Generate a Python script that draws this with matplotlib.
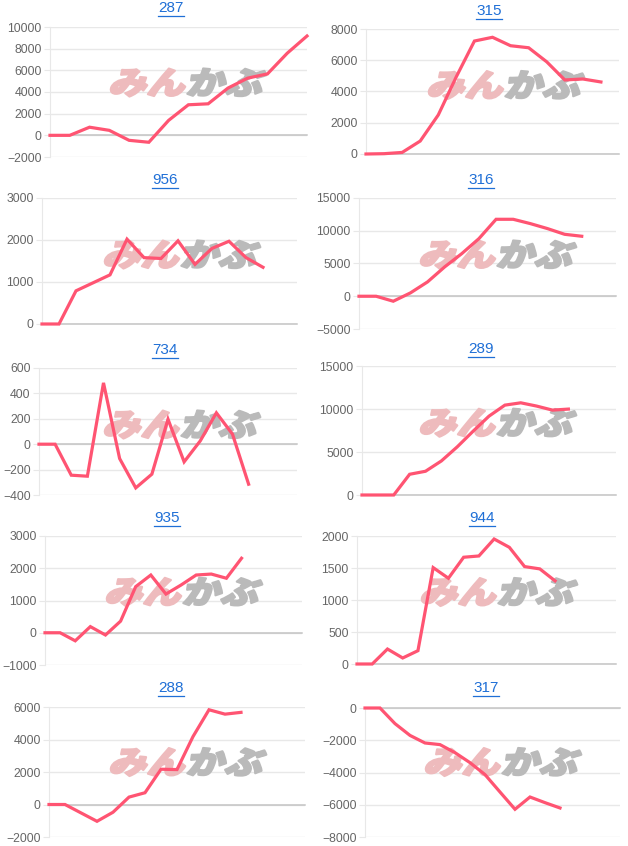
"""Small-multiples of cumulative profit lines with watermark."""

import matplotlib
matplotlib.use('Agg')
import matplotlib.pyplot as plt
import numpy as np
from matplotlib.textpath import TextPath
from matplotlib.font_manager import FontProperties
from matplotlib.patches import PathPatch
from matplotlib.transforms import Affine2D, IdentityTransform
from matplotlib.lines import Line2D

plt.rcParams['font.family'] = ['Liberation Sans', 'DejaVu Sans']

W, H = 628, 846

# panel titles (row-major: left, right)
titles = ['287', '315', '956', '316', '734', '289', '935', '944', '288', '317']

# series values per panel
vals_287 = [0, 0, 750, 460, -460, -640, 1380, 2820, 2910, 4360, 5280, 5670, 7580, 9170]
vals_315 = [0, 20, 100, 830, 2500, 4950, 7230, 7470, 6930, 6800, 5900, 4740, 4800, 4610]
vals_956 = [0, 0, 790, 980, 1170, 2020, 1580, 1560, 1980, 1420, 1800, 1970, 1580, 1350]
vals_316 = [0, 0, -760, 510, 2190, 4480, 6510, 8800, 11750, 11750, 11090, 10330, 9460, 9160]
vals_734 = [0, 0, -244, -252, 483, -113, -344, -236, 197, -139, 26, 247, 79, -315]
vals_289 = [0, 0, 0, 2410, 2760, 3960, 5600, 7420, 9170, 10450, 10720, 10340, 9870, 9990]
vals_935 = [0, 0, -250, 190, -70, 360, 1430, 1790, 1200, 1480, 1790, 1820, 1690, 2310]
vals_944 = [0, 0, 234, 94, 208, 1506, 1340, 1668, 1688, 1953, 1823, 1522, 1486, 1299]
vals_288 = [0, 0, -517, -1034, -476, 455, 724, 2170, 2150, 4180, 5830, 5560, 5670]
vals_317 = [0, 0, -970, -1700, -2170, -2270, -2770, -3390, -4130, -5210, -6280, -5520, -5870, -6200]
series = [vals_287, vals_315, vals_956, vals_316, vals_734,
          vals_289, vals_935, vals_944, vals_288, vals_317]

# number of category slots on each x axis
n_slots = [14, 15, 16, 16, 17, 17, 18, 18, 17, 18]

# y axis (min, max, step)
y_axes = [(-2000, 10000, 2000), (0, 8000, 2000), (0, 3000, 1000), (-5000, 15000, 5000),
          (-400, 600, 200), (0, 15000, 5000), (-1000, 3000, 1000), (0, 2000, 500),
          (-2000, 6000, 2000), (-8000, 0, 2000)]

# plot area in pixels: left, top, right, bottom
boxes = [(50, 27, 307, 157), (366, 29, 619, 154),
         (42, 198, 297, 324), (359, 198, 616, 329),
         (39, 368, 297, 495), (362, 366, 616, 495),
         (45, 536, 302, 665), (357, 536, 616, 664),
         (49, 707, 305, 837), (365, 708, 620, 837)]

# title centres in pixels
title_pos = [(171, 8.5), (489, 11), (165, 180.5), (481, 180.5), (165, 350.5),
             (481, 348.7), (167, 517.8), (482, 518), (171, 688), (486, 688)]

LINE = '#ff5472'
GRID = '#e8e8e8'
ZERO = '#c4c4c4'
LINK = '#1f6fd6'

fig = plt.figure(figsize=(W / 100, H / 100), dpi=100)
fig.patch.set_facecolor('white')

fp_logo = FontProperties(family='Noto Sans CJK JP', weight='heavy')


def add_logo(ax, cx, cy):
    p1 = TextPath((0, 0), 'みん', size=40, prop=fp_logo)
    p2 = TextPath((0, 0), 'かぶ', size=40, prop=fp_logo)
    e1 = p1.get_extents()
    e2 = p2.get_extents()
    gap = 4
    total_w = e1.width + gap + e2.width
    h = max(e1.y1, e2.y1) - min(e1.y0, e2.y0)
    sx = 152 / total_w
    sy = 28 / h
    y0 = min(e1.y0, e2.y0)
    base = Affine2D().translate(-e1.x0, -y0).scale(sx, sy)
    skew = Affine2D().skew_deg(14, 0)
    disp_x = cx - 156 / 2
    disp_y = H - cy - 14
    t1 = base + skew + Affine2D().translate(disp_x, disp_y)
    t2 = (Affine2D().translate(-e2.x0 + e1.x0 + e1.width + gap, 0) + base + skew
          + Affine2D().translate(disp_x, disp_y))
    ax.add_patch(PathPatch(t1.transform_path(p1), facecolor='#eebbbd', edgecolor='#eebbbd',
                           linewidth=1.6, joinstyle='round',
                           transform=IdentityTransform(), clip_on=False, zorder=1.6))
    ax.add_patch(PathPatch(t2.transform_path(p2), facecolor='#bababa', edgecolor='#bababa',
                           linewidth=1.6, joinstyle='round',
                           transform=IdentityTransform(), clip_on=False, zorder=1.6))


title_texts = []
for i, vals in enumerate(series):
    l, t, r, b = boxes[i]
    ax = fig.add_axes([l / W, 1 - b / H, (r - l) / W, (b - t) / H])
    ymin, ymax, step = y_axes[i]
    ax.set_xlim(0, n_slots[i] - 1)
    ax.set_ylim(ymin, ymax)
    ax.set_yticks(np.arange(ymin, ymax + step / 2, step))
    ax.set_xticks([])
    ax.grid(axis='y', color=GRID, linewidth=1)
    for s in ['top', 'right', 'bottom']:
        ax.spines[s].set_visible(False)
    ax.spines['left'].set_color(GRID)
    ax.tick_params(axis='y', length=4, color=GRID, labelcolor='#666666',
                   labelsize=8.8, pad=2)
    ax.axhline(0, color=ZERO, linewidth=1.1, zorder=1.7, clip_on=False)
    ax.plot(np.arange(len(vals)), vals, color=LINE, linewidth=2.3, zorder=3,
            clip_on=False, solid_joinstyle='miter')
    tx, ty = title_pos[i]
    add_logo(ax, tx + 16, ty + 74)
    txt = fig.text(tx / W, 1 - ty / H, titles[i], ha='center', va='center',
                   fontsize=11, color=LINK)
    title_texts.append(txt)

fig.canvas.draw()
renderer = fig.canvas.get_renderer()
for txt in title_texts:
    bb = txt.get_window_extent(renderer)
    yline = bb.y0 - 1
    fig.add_artist(Line2D([bb.x0 / W, bb.x1 / W], [yline / H, yline / H],
                          color=LINK, linewidth=0.9, transform=fig.transFigure))

fig.savefig('out.png', dpi=100, facecolor='white')
